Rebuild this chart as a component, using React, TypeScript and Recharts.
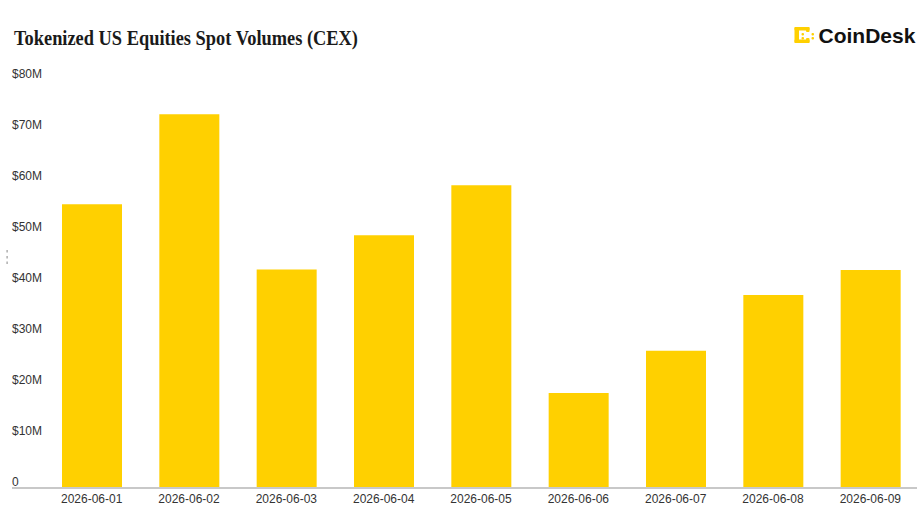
import React from 'react';
import { BarChart, Bar, XAxis, YAxis } from 'recharts';

const dates = [
  '2026-06-01', '2026-06-02', '2026-06-03', '2026-06-04', '2026-06-05',
  '2026-06-06', '2026-06-07', '2026-06-08', '2026-06-09',
];
const volumesM = [55.6, 73.2, 42.8, 49.5, 59.3, 18.6, 26.9, 37.8, 42.7];
const yTicksM = [0, 10, 20, 30, 40, 50, 60, 70, 80];

const data = dates.map((d, i) => ({ date: d, volume: volumesM[i] * 1e6 }));
const yTicks = yTicksM.map((v) => v * 1e6);

const fmt = (v: number) => (v === 0 ? '0' : `$${v / 1e6}M`);

const YTick = (props: any) => {
  const { y, payload } = props;
  return (
    <text x={12} y={y - 2} fontSize={12} fill="#333" fontFamily="'Liberation Sans', Arial, sans-serif" textAnchor="start">
      {fmt(payload.value)}
    </text>
  );
};

const XTick = (props: any) => {
  const { x, y, payload } = props;
  return (
    <text x={x} y={y + 15} fontSize={12} fill="#333" fontFamily="'Liberation Sans', Arial, sans-serif" textAnchor="middle">
      {payload.value}
    </text>
  );
};

export default function App() {
  return (
    <div style={{ position: 'absolute', left: 0, top: 0, width: 917, height: 512, background: '#fff', overflow: 'hidden' }}>
      <svg style={{ position: 'absolute', left: 0, top: 0 }} width={917} height={60}>
        <text
          x={14}
          y={44.5}
          fontSize={20.5}
          fontWeight={700}
          fill="#1a1a1a"
          fontFamily="'Liberation Serif', 'Times New Roman', serif"
          textLength={344}
          lengthAdjust="spacingAndGlyphs"
        >
          Tokenized US Equities Spot Volumes (CEX)
        </text>
        <g fill="#FFD000">
          <rect x={794.5} y={27} width={15} height={3.5} rx={1} />
          <rect x={794.5} y={27} width={4.5} height={16} rx={1} />
          <rect x={794.5} y={39.5} width={15} height={3.5} rx={1} />
          <rect x={806} y={27} width={3.5} height={5} rx={1} />
          <rect x={806} y={38} width={3.5} height={5} rx={1} />
          <rect x={811.5} y={33} width={2.5} height={2.5} rx={1} />
          <rect x={811.5} y={37} width={2.5} height={2.5} rx={1} />
          <rect x={801.5} y={33} width={2.5} height={2.5} rx={1} />
          <rect x={801.5} y={37} width={2.5} height={2.5} rx={1} />
        </g>
        <text x={818.5} y={43} fontSize={21} fontWeight={700} fill="#111" fontFamily="'Liberation Sans', Arial, sans-serif">
          CoinDesk
        </text>
      </svg>
      <svg style={{ position: 'absolute', left: 0, top: 0 }} width={20} height={512}>
        <g fill="#9a9a9a">
          <rect x={6.5} y={250} width={1.2} height={2.5} />
          <rect x={6.5} y={256} width={1.2} height={2.5} />
          <rect x={6.5} y={261.5} width={1.2} height={2.5} />
        </g>
      </svg>
      <div style={{ position: 'absolute', left: 0, top: 0 }}>
        <BarChart
          width={917}
          height={512}
          data={data}
          margin={{ top: 79.6, right: -2, bottom: 0, left: 0 }}
        >
          <XAxis
            dataKey="date"
            height={24}
            axisLine={{ stroke: '#c8c8c8', strokeWidth: 2 }}
            tickLine={false}
            tickSize={0}
            tickMargin={0}
            tick={<XTick />}
            interval={0}
            padding={{ left: 31, right: 0 }}
          />
          <YAxis
            width={12}
            domain={[0, 80e6]}
            ticks={yTicks}
            axisLine={false}
            tickLine={false}
            tick={<YTick />}
            interval={0}
            allowDataOverflow
          />
          <Bar dataKey="volume" fill="#FFD000" barSize={60} isAnimationActive={false} />
        </BarChart>
      </div>
    </div>
  );
}
